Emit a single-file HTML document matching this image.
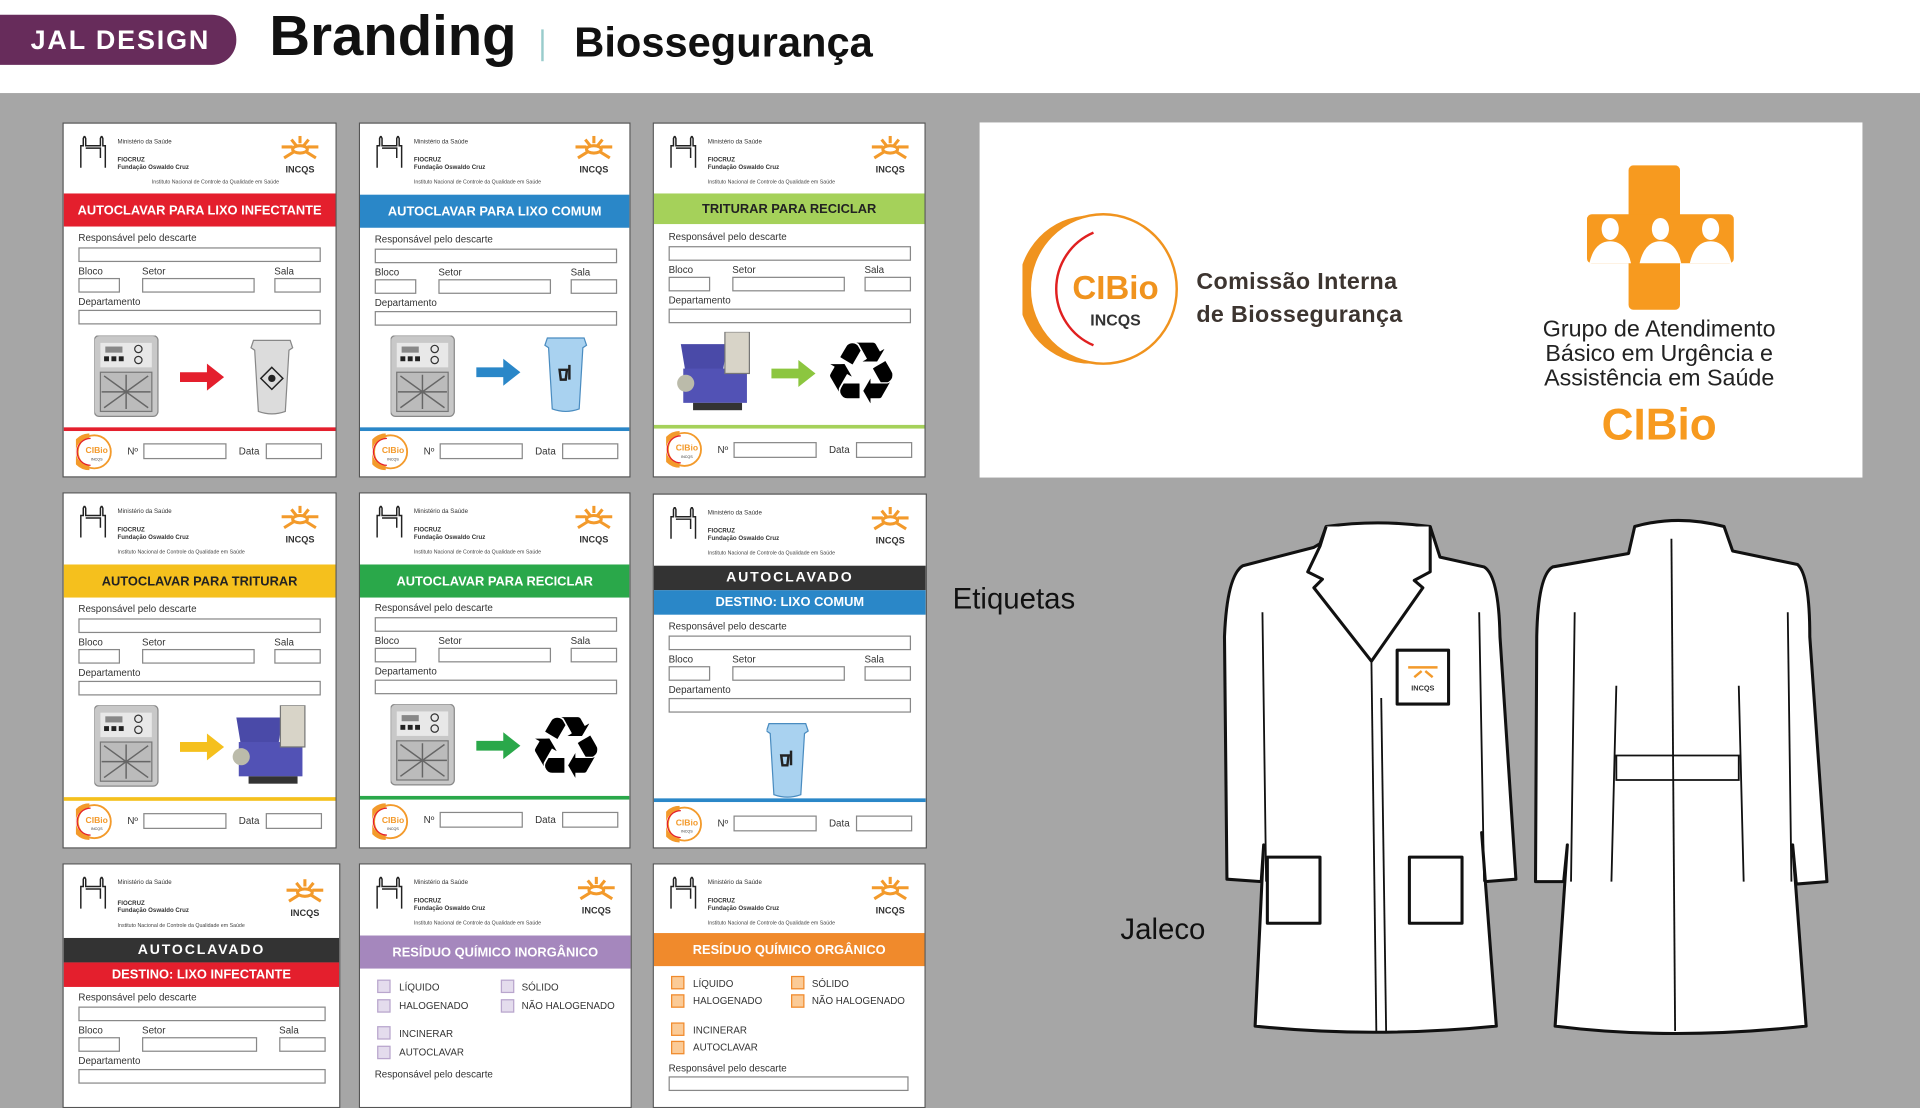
<!DOCTYPE html>
<html><head><meta charset="utf-8">
<style>
*{margin:0;padding:0;box-sizing:border-box}
html,body{width:1920px;height:1080px;overflow:hidden;background:#a6a6a6;font-family:"Liberation Sans",sans-serif}
#w{position:absolute;left:0;top:0;width:1568px;height:882px;transform:scale(1.22449);transform-origin:0 0;background:#a6a6a6}
.a{position:absolute}
.card{position:absolute;background:#fff;border:1px solid #555;width:224px;height:290px;overflow:hidden}
.card>*{position:absolute}
.t1{font-size:5px;color:#333;line-height:6px}
.t2{font-size:4.3px;color:#444;white-space:nowrap}
.band{left:0;right:0;color:#fff;font-weight:bold;font-size:10.5px;text-align:center;display:flex;align-items:center;justify-content:center;white-space:nowrap}
.l{font-size:8px;color:#333}
.b{border:1px solid #888;height:12px;background:#fff}
.ln{left:0;right:0;height:3px}
.ck{width:11px;height:11px}
.ct{font-size:8px;color:#333}
</style></head><body><div id="w">
<!-- header bar -->
<div class="a" style="left:0;top:0;width:1568px;height:76px;background:#fff"></div>
<div class="a" style="left:0;top:12px;width:193px;height:41px;background:#672c5b;border-radius:0 20px 20px 0;color:#fff;font-weight:bold;font-size:22px;letter-spacing:1.5px;line-height:41px;padding-left:25px">JAL DESIGN</div>
<div class="a" style="left:220px;top:2px;font-size:46px;font-weight:bold;color:#111">Branding</div>
<div class="a" style="left:442px;top:24px;width:2px;height:26px;background:#9cc"></div>
<div class="a" style="left:469px;top:16px;font-size:34px;font-weight:bold;color:#111">Biossegurança</div>

<svg width="0" height="0" style="position:absolute"><defs>
<g id="bld"><path d="M2 26V8h2V2l1-2 1 2v6h12V2l1-2 1 2v6h2v18M6 10h12v8" fill="none" stroke="#222" stroke-width="1.2"/></g>
<g id="inc"><g stroke="#f39a2b" stroke-width="2.5" fill="none"><ellipse cx="19" cy="11" rx="6" ry="3"/><path d="M4 9h9M25 9h9M6 18l8-5M32 18l-8-5M12 3l4 5M26 3l-4 5M19 0v6"/></g><text x="19" y="30" font-size="7.5" font-weight="bold" text-anchor="middle" fill="#333" font-family="Liberation Sans">INCQS</text></g>
<g id="cib"><circle cx="15" cy="15" r="13.5" fill="#fff" stroke="#f39a2b" stroke-width="1.5"/><path d="M11 2A13 13 0 0 0 11 28" stroke="#f39a2b" stroke-width="4" fill="none"/><path d="M12 4A11 11 0 0 0 12 26" stroke="#e41f2d" stroke-width="1" fill="none"/><text x="17" y="16" font-size="7" font-weight="bold" text-anchor="middle" fill="#f39a2b" font-family="Liberation Sans">CIBio</text><text x="17" y="22" font-size="3" text-anchor="middle" fill="#333" font-family="Liberation Sans">INCQS</text></g>
<g id="acl"><rect x="0" y="0" width="52" height="66" rx="4" fill="#c8c8c8" stroke="#888"/><rect x="5" y="6" width="42" height="20" fill="#e8e8e8"/><rect x="9" y="9" width="14" height="5" fill="#888"/><rect x="8" y="17" width="4" height="4" fill="#222"/><rect x="14" y="17" width="4" height="4" fill="#222"/><rect x="20" y="17" width="4" height="4" fill="#222"/><circle cx="36" cy="11" r="3" fill="none" stroke="#333"/><circle cx="36" cy="20" r="3" fill="none" stroke="#333"/><rect x="5" y="30" width="42" height="32" fill="#bbb" stroke="#777"/><path d="M8 33L44 59M44 33L8 59M26 32v28M6 46h40" stroke="#666" stroke-width="1.2"/></g>
<g id="rec"><text x="0" y="58" font-size="70" fill="#000" font-family="DejaVu Sans">♻</text></g>
<g id="shr"><path d="M4 10l38 0-4 24H8z" fill="#4a4aa8"/><rect x="6" y="30" width="52" height="28" fill="#5252b5"/><rect x="40" y="0" width="20" height="34" fill="#d8d4c8" stroke="#777"/><circle cx="8" cy="42" r="7" fill="#bba" /><rect x="14" y="58" width="40" height="6" fill="#333"/></g>
<g id="bin"><path d="M2 4h30l2 6-3 2-3 50q-11 4-22 0l-3-50-3-2z" fill="#dcdcdc" stroke="#888"/><path d="M17 26l9 9-9 9-9-9z" fill="none" stroke="#222" stroke-width="1.2"/><circle cx="17" cy="35" r="3" fill="#222"/></g>
<g id="bbin"><path d="M2 4h30l2 6-3 2-3 50q-11 4-22 0l-3-50-3-2z" fill="#a9d2f0" stroke="#4a8cc0"/><path d="M12 30h6l-1 8h-4zM20 26v12" stroke="#222" stroke-width="2" fill="none"/></g>
</defs></svg>

<!-- generic header builder repeated -->
<!-- ROW 1 -->
<div class="card" style="left:51px;top:100px">
<svg style="left:12px;top:10px" width="28" height="28"><use href="#bld"/></svg>
<div class="t1" style="left:44px;top:12px">Ministério da Saúde</div>
<div class="t1" style="left:44px;top:27px;font-weight:bold">FIOCRUZ<br>Fundação Oswaldo Cruz</div>
<div class="t2" style="left:72px;top:45px">Instituto Nacional de Controle da Qualidade em Saúde</div>
<svg style="left:174px;top:10px" width="40" height="34"><use href="#inc"/></svg>
<div class="band" style="top:57px;height:27px;background:#e41f2d">AUTOCLAVAR PARA LIXO INFECTANTE</div>
<div class="l" style="left:12px;top:89px">Responsável pelo descarte</div>
<div class="b" style="left:12px;top:101px;width:198px"></div>
<div class="l" style="left:12px;top:116px">Bloco</div><div class="l" style="left:64px;top:116px">Setor</div><div class="l" style="left:172px;top:116px">Sala</div>
<div class="b" style="left:12px;top:126px;width:34px"></div><div class="b" style="left:64px;top:126px;width:92px"></div><div class="b" style="left:172px;top:126px;width:38px"></div>
<div class="l" style="left:12px;top:141px">Departamento</div>
<div class="b" style="left:12px;top:152px;width:198px"></div>
<svg style="left:25px;top:173px" width="200" height="70"><use href="#acl"/><path d="M70 30h22v-7l14 11-14 11v-7H70z" fill="#e41f2d"/><use href="#bin" x="128" y="0"/></svg>
<div class="ln" style="top:248px;background:#e41f2d"></div>
<svg style="left:10px;top:253px" width="30" height="30"><use href="#cib"/></svg>
<div class="l" style="left:52px;top:263px">Nº</div><div class="b" style="left:65px;top:261px;width:68px;height:13px"></div>
<div class="l" style="left:143px;top:263px">Data</div><div class="b" style="left:165px;top:261px;width:46px;height:13px"></div>
</div>

<div class="card" style="left:293px;top:100px;width:222px">
<svg style="left:12px;top:10px" width="28" height="28"><use href="#bld"/></svg>
<div class="t1" style="left:44px;top:12px">Ministério da Saúde</div>
<div class="t1" style="left:44px;top:27px;font-weight:bold">FIOCRUZ<br>Fundação Oswaldo Cruz</div>
<div class="t2" style="left:44px;top:45px">Instituto Nacional de Controle da Qualidade em Saúde</div>
<svg style="left:172px;top:10px" width="40" height="34"><use href="#inc"/></svg>
<div class="band" style="top:58px;height:27px;background:#2a87c8">AUTOCLAVAR PARA LIXO COMUM</div>
<div class="l" style="left:12px;top:90px">Responsável pelo descarte</div>
<div class="b" style="left:12px;top:102px;width:198px"></div>
<div class="l" style="left:12px;top:117px">Bloco</div><div class="l" style="left:64px;top:117px">Setor</div><div class="l" style="left:172px;top:117px">Sala</div>
<div class="b" style="left:12px;top:127px;width:34px"></div><div class="b" style="left:64px;top:127px;width:92px"></div><div class="b" style="left:172px;top:127px;width:38px"></div>
<div class="l" style="left:12px;top:142px">Departamento</div>
<div class="b" style="left:12px;top:153px;width:198px"></div>
<svg style="left:25px;top:173px" width="200" height="70"><use href="#acl"/><path d="M70 26h22v-7l14 11-14 11v-7H70z" fill="#2a87c8"/><use href="#bbin" x="126" y="-2"/></svg>
<div class="ln" style="top:248px;background:#2a87c8"></div>
<svg style="left:10px;top:253px" width="30" height="30"><use href="#cib"/></svg>
<div class="l" style="left:52px;top:263px">Nº</div><div class="b" style="left:65px;top:261px;width:68px;height:13px"></div>
<div class="l" style="left:143px;top:263px">Data</div><div class="b" style="left:165px;top:261px;width:46px;height:13px"></div>
</div>

<div class="card" style="left:533px;top:100px;width:223px">
<svg style="left:12px;top:10px" width="28" height="28"><use href="#bld"/></svg>
<div class="t1" style="left:44px;top:12px">Ministério da Saúde</div>
<div class="t1" style="left:44px;top:27px;font-weight:bold">FIOCRUZ<br>Fundação Oswaldo Cruz</div>
<div class="t2" style="left:44px;top:45px">Instituto Nacional de Controle da Qualidade em Saúde</div>
<svg style="left:174px;top:10px" width="40" height="34"><use href="#inc"/></svg>
<div class="band" style="top:57px;height:25px;background:#a5d15a;color:#222">TRITURAR PARA RECICLAR</div>
<div class="l" style="left:12px;top:88px">Responsável pelo descarte</div>
<div class="b" style="left:12px;top:100px;width:198px"></div>
<div class="l" style="left:12px;top:115px">Bloco</div><div class="l" style="left:64px;top:115px">Setor</div><div class="l" style="left:172px;top:115px">Sala</div>
<div class="b" style="left:12px;top:125px;width:34px"></div><div class="b" style="left:64px;top:125px;width:92px"></div><div class="b" style="left:172px;top:125px;width:38px"></div>
<div class="l" style="left:12px;top:140px">Departamento</div>
<div class="b" style="left:12px;top:151px;width:198px"></div>
<svg style="left:18px;top:170px" width="200" height="72"><use href="#shr"/><path d="M78 30h22v-7l14 11-14 11v-7H78z" fill="#8cc63f"/><use href="#rec" x="120" y="0"/></svg>
<div class="ln" style="top:246px;background:#a5d15a"></div>
<svg style="left:10px;top:251px" width="30" height="30"><use href="#cib"/></svg>
<div class="l" style="left:52px;top:262px">Nº</div><div class="b" style="left:65px;top:260px;width:68px;height:13px"></div>
<div class="l" style="left:143px;top:262px">Data</div><div class="b" style="left:165px;top:260px;width:46px;height:13px"></div>
</div>

<!-- ROW 2 -->
<div class="card" style="left:51px;top:402px;height:291px">
<svg style="left:12px;top:10px" width="28" height="28"><use href="#bld"/></svg>
<div class="t1" style="left:44px;top:12px">Ministério da Saúde</div>
<div class="t1" style="left:44px;top:27px;font-weight:bold">FIOCRUZ<br>Fundação Oswaldo Cruz</div>
<div class="t2" style="left:44px;top:45px">Instituto Nacional de Controle da Qualidade em Saúde</div>
<svg style="left:174px;top:10px" width="40" height="34"><use href="#inc"/></svg>
<div class="band" style="top:58px;height:27px;background:#f5c01d;color:#222">AUTOCLAVAR PARA TRITURAR</div>
<div class="l" style="left:12px;top:90px">Responsável pelo descarte</div>
<div class="b" style="left:12px;top:102px;width:198px"></div>
<div class="l" style="left:12px;top:117px">Bloco</div><div class="l" style="left:64px;top:117px">Setor</div><div class="l" style="left:172px;top:117px">Sala</div>
<div class="b" style="left:12px;top:127px;width:34px"></div><div class="b" style="left:64px;top:127px;width:92px"></div><div class="b" style="left:172px;top:127px;width:38px"></div>
<div class="l" style="left:12px;top:142px">Departamento</div>
<div class="b" style="left:12px;top:153px;width:198px"></div>
<svg style="left:25px;top:173px" width="200" height="72"><use href="#acl"/><path d="M70 30h22v-7l14 11-14 11v-7H70z" fill="#f5c01d"/><use href="#shr" x="112" y="0"/></svg>
<div class="ln" style="top:248px;background:#f5c01d"></div>
<svg style="left:10px;top:253px" width="30" height="30"><use href="#cib"/></svg>
<div class="l" style="left:52px;top:263px">Nº</div><div class="b" style="left:65px;top:261px;width:68px;height:13px"></div>
<div class="l" style="left:143px;top:263px">Data</div><div class="b" style="left:165px;top:261px;width:46px;height:13px"></div>
</div>

<div class="card" style="left:293px;top:402px;width:222px;height:291px">
<svg style="left:12px;top:10px" width="28" height="28"><use href="#bld"/></svg>
<div class="t1" style="left:44px;top:12px">Ministério da Saúde</div>
<div class="t1" style="left:44px;top:27px;font-weight:bold">FIOCRUZ<br>Fundação Oswaldo Cruz</div>
<div class="t2" style="left:44px;top:45px">Instituto Nacional de Controle da Qualidade em Saúde</div>
<svg style="left:172px;top:10px" width="40" height="34"><use href="#inc"/></svg>
<div class="band" style="top:58px;height:27px;background:#2aa84a">AUTOCLAVAR PARA RECICLAR</div>
<div class="l" style="left:12px;top:89px">Responsável pelo descarte</div>
<div class="b" style="left:12px;top:101px;width:198px"></div>
<div class="l" style="left:12px;top:116px">Bloco</div><div class="l" style="left:64px;top:116px">Setor</div><div class="l" style="left:172px;top:116px">Sala</div>
<div class="b" style="left:12px;top:126px;width:34px"></div><div class="b" style="left:64px;top:126px;width:92px"></div><div class="b" style="left:172px;top:126px;width:38px"></div>
<div class="l" style="left:12px;top:141px">Departamento</div>
<div class="b" style="left:12px;top:152px;width:198px"></div>
<svg style="left:25px;top:172px" width="200" height="72"><use href="#acl"/><path d="M70 30h22v-7l14 11-14 11v-7H70z" fill="#2aa84a"/><use href="#rec" x="112" y="2"/></svg>
<div class="ln" style="top:247px;background:#2aa84a"></div>
<svg style="left:10px;top:253px" width="30" height="30"><use href="#cib"/></svg>
<div class="l" style="left:52px;top:262px">Nº</div><div class="b" style="left:65px;top:260px;width:68px;height:13px"></div>
<div class="l" style="left:143px;top:262px">Data</div><div class="b" style="left:165px;top:260px;width:46px;height:13px"></div>
</div>

<div class="card" style="left:533px;top:403px;height:290px">
<svg style="left:12px;top:10px" width="28" height="28"><use href="#bld"/></svg>
<div class="t1" style="left:44px;top:12px">Ministério da Saúde</div>
<div class="t1" style="left:44px;top:27px;font-weight:bold">FIOCRUZ<br>Fundação Oswaldo Cruz</div>
<div class="t2" style="left:44px;top:45px">Instituto Nacional de Controle da Qualidade em Saúde</div>
<svg style="left:174px;top:10px" width="40" height="34"><use href="#inc"/></svg>
<div class="band" style="top:58px;height:20px;background:#333;letter-spacing:1.5px;font-size:11.5px">AUTOCLAVADO</div>
<div class="band" style="top:78px;height:20px;background:#2a87c8">DESTINO: LIXO COMUM</div>
<div class="l" style="left:12px;top:103px">Responsável pelo descarte</div>
<div class="b" style="left:12px;top:115px;width:198px"></div>
<div class="l" style="left:12px;top:130px">Bloco</div><div class="l" style="left:64px;top:130px">Setor</div><div class="l" style="left:172px;top:130px">Sala</div>
<div class="b" style="left:12px;top:140px;width:34px"></div><div class="b" style="left:64px;top:140px;width:92px"></div><div class="b" style="left:172px;top:140px;width:38px"></div>
<div class="l" style="left:12px;top:155px">Departamento</div>
<div class="b" style="left:12px;top:166px;width:198px"></div>
<svg style="left:92px;top:183px" width="40" height="66"><use href="#bbin"/></svg>
<div class="ln" style="top:248px;background:#2a87c8"></div>
<svg style="left:10px;top:254px" width="30" height="30"><use href="#cib"/></svg>
<div class="l" style="left:52px;top:264px">Nº</div><div class="b" style="left:65px;top:262px;width:68px;height:13px"></div>
<div class="l" style="left:143px;top:264px">Data</div><div class="b" style="left:165px;top:262px;width:46px;height:13px"></div>
</div>

<!-- ROW 3 -->
<div class="card" style="left:51px;top:705px;width:227px;height:200px">
<svg style="left:12px;top:10px" width="28" height="28"><use href="#bld"/></svg>
<div class="t1" style="left:44px;top:12px">Ministério da Saúde</div>
<div class="t1" style="left:44px;top:29px;font-weight:bold">FIOCRUZ<br>Fundação Oswaldo Cruz</div>
<div class="t2" style="left:44px;top:47px">Instituto Nacional de Controle da Qualidade em Saúde</div>
<svg style="left:178px;top:12px" width="40" height="34"><use href="#inc"/></svg>
<div class="band" style="top:60px;height:20px;background:#333;letter-spacing:1.5px;font-size:11.5px">AUTOCLAVADO</div>
<div class="band" style="top:80px;height:20px;background:#e41f2d">DESTINO: LIXO INFECTANTE</div>
<div class="l" style="left:12px;top:104px">Responsável pelo descarte</div>
<div class="b" style="left:12px;top:116px;width:202px"></div>
<div class="l" style="left:12px;top:131px">Bloco</div><div class="l" style="left:64px;top:131px">Setor</div><div class="l" style="left:176px;top:131px">Sala</div>
<div class="b" style="left:12px;top:141px;width:34px"></div><div class="b" style="left:64px;top:141px;width:94px"></div><div class="b" style="left:176px;top:141px;width:38px"></div>
<div class="l" style="left:12px;top:156px">Departamento</div>
<div class="b" style="left:12px;top:167px;width:202px"></div>
</div>

<div class="card" style="left:293px;top:705px;width:223px;height:200px">
<svg style="left:12px;top:10px" width="28" height="28"><use href="#bld"/></svg>
<div class="t1" style="left:44px;top:12px">Ministério da Saúde</div>
<div class="t1" style="left:44px;top:27px;font-weight:bold">FIOCRUZ<br>Fundação Oswaldo Cruz</div>
<div class="t2" style="left:44px;top:45px">Instituto Nacional de Controle da Qualidade em Saúde</div>
<svg style="left:174px;top:10px" width="40" height="34"><use href="#inc"/></svg>
<div class="band" style="top:58px;height:27px;background:#a587bd">RESÍDUO QUÍMICO INORGÂNICO</div>
<div class="ck" style="left:14px;top:94px;background:#e4dced;border:1px solid #b9a6cd"></div><div class="ct" style="left:32px;top:96px">LÍQUIDO</div>
<div class="ck" style="left:115px;top:94px;background:#e4dced;border:1px solid #b9a6cd"></div><div class="ct" style="left:132px;top:96px">SÓLIDO</div>
<div class="ck" style="left:14px;top:110px;background:#e4dced;border:1px solid #b9a6cd"></div><div class="ct" style="left:32px;top:111px">HALOGENADO</div>
<div class="ck" style="left:115px;top:110px;background:#e4dced;border:1px solid #b9a6cd"></div><div class="ct" style="left:132px;top:111px">NÃO HALOGENADO</div>
<div class="ck" style="left:14px;top:132px;background:#e4dced;border:1px solid #b9a6cd"></div><div class="ct" style="left:32px;top:134px">INCINERAR</div>
<div class="ck" style="left:14px;top:148px;background:#e4dced;border:1px solid #b9a6cd"></div><div class="ct" style="left:32px;top:149px">AUTOCLAVAR</div>
<div class="l" style="left:12px;top:167px">Responsável pelo descarte</div>
</div>

<div class="card" style="left:533px;top:705px;width:223px;height:200px">
<svg style="left:12px;top:10px" width="28" height="28"><use href="#bld"/></svg>
<div class="t1" style="left:44px;top:12px">Ministério da Saúde</div>
<div class="t1" style="left:44px;top:27px;font-weight:bold">FIOCRUZ<br>Fundação Oswaldo Cruz</div>
<div class="t2" style="left:44px;top:45px">Instituto Nacional de Controle da Qualidade em Saúde</div>
<svg style="left:174px;top:10px" width="40" height="34"><use href="#inc"/></svg>
<div class="band" style="top:56px;height:27px;background:#f08a2c">RESÍDUO QUÍMICO ORGÂNICO</div>
<div class="ck" style="left:14px;top:91px;background:#fbcb97;border:1px solid #f08a2c"></div><div class="ct" style="left:32px;top:93px">LÍQUIDO</div>
<div class="ck" style="left:112px;top:91px;background:#fbcb97;border:1px solid #f08a2c"></div><div class="ct" style="left:129px;top:93px">SÓLIDO</div>
<div class="ck" style="left:14px;top:106px;background:#fbcb97;border:1px solid #f08a2c"></div><div class="ct" style="left:32px;top:107px">HALOGENADO</div>
<div class="ck" style="left:112px;top:106px;background:#fbcb97;border:1px solid #f08a2c"></div><div class="ct" style="left:129px;top:107px">NÃO HALOGENADO</div>
<div class="ck" style="left:14px;top:129px;background:#fbcb97;border:1px solid #f08a2c"></div><div class="ct" style="left:32px;top:131px">INCINERAR</div>
<div class="ck" style="left:14px;top:144px;background:#fbcb97;border:1px solid #f08a2c"></div><div class="ct" style="left:32px;top:145px">AUTOCLAVAR</div>
<div class="l" style="left:12px;top:162px">Responsável pelo descarte</div>
<div class="b" style="left:12px;top:173px;width:196px"></div>
</div>

<!-- logo panel -->
<div class="a" style="left:800px;top:100px;width:721px;height:290px;background:#fff"></div>
<svg class="a" style="left:835px;top:172px" width="135" height="128">
<ellipse cx="66" cy="64" rx="60" ry="61" fill="none" stroke="#f0931e" stroke-width="2"/>
<path d="M55 4A62 62 0 0 0 55 125A58 60 0 0 1 55 4z" fill="#f0931e"/>
<path d="M58 18A50 50 0 0 0 58 110" fill="none" stroke="#e02020" stroke-width="2"/>
<text x="76" y="72" font-size="27" font-weight="bold" fill="#f0931e" text-anchor="middle" font-family="Liberation Sans">CIBio</text>
<text x="76" y="94" font-size="13" font-weight="bold" fill="#333" text-anchor="middle" font-family="Liberation Sans">INCQS</text>
</svg>
<div class="a" style="left:977px;top:217px;font-size:19px;font-weight:bold;color:#3d3530;line-height:27px;letter-spacing:0.3px">Comissão Interna<br>de Biossegurança</div>
<svg class="a" style="left:1296px;top:135px" width="120" height="120">
<rect x="34" y="0" width="42" height="118" rx="4" fill="#f79a1f"/>
<rect x="0" y="40" width="120" height="40" rx="4" fill="#f79a1f"/>
<g fill="#fff"><ellipse cx="19" cy="52" rx="7" ry="9"/><ellipse cx="60" cy="52" rx="7" ry="9"/><ellipse cx="101" cy="52" rx="7" ry="9"/>
<path d="M2 80Q6 62 19 62Q32 62 36 80z"/><path d="M43 80Q47 62 60 62Q73 62 77 80z"/><path d="M84 80Q88 62 101 62Q114 62 118 80z"/></g>
</svg>
<div class="a" style="left:1240px;top:260px;width:230px;text-align:center;font-size:19px;line-height:20px;color:#222">Grupo de Atendimento<br>Básico em Urgência e<br>Assistência em Saúde</div>
<div class="a" style="left:1240px;top:326px;width:230px;text-align:center;font-size:36px;font-weight:bold;color:#f79a1f">CIBio</div>

<div class="a" style="left:778px;top:476px;font-size:24px;color:#111">Etiquetas</div>
<div class="a" style="left:915px;top:746px;font-size:24px;color:#111">Jaleco</div>

<!-- coats -->
<svg class="a" style="left:990px;top:415px" width="520" height="440" viewBox="990 415 520 440">
<g fill="#fff" stroke="#111" stroke-width="2.5" stroke-linejoin="round">
<path d="M1078 444L1083 430Q1125 424 1168 430L1176 455L1212 463Q1224 470 1225 520L1238 718L1213 720L1210 680L1222 838Q1120 848 1025 838L1032 690L1030 720L1002 718L1000 520Q1002 470 1015 462L1073 447z"/>
<path d="M1083 430L1078 446L1068 467L1080 473L1073 480L1120 540L1162 480L1155 474L1168 467L1168 430"/>
<path d="M1035 700h43v54h-43z"/><path d="M1151 700h43v54h-43z"/>
<path d="M1141 531h42v44h-42z"/>
<path d="M1335 430Q1370 420 1408 430L1415 450L1468 461Q1478 470 1478 520L1492 720L1467 722L1464 690L1475 838Q1365 850 1270 838L1280 690L1277 720L1254 720L1255 520Q1256 470 1268 463L1330 452z"/>
</g>
<g fill="none" stroke="#111" stroke-width="1.5">
<path d="M1120 540L1124 842"/><path d="M1128 570L1132 842"/>
<path d="M1031 500L1034 720M1208 500L1212 720"/>
<path d="M1365 440L1368 842"/>
<path d="M1320 617h100v20h-100z"/>
<path d="M1320 560L1316 720M1420 560L1424 720"/>
<path d="M1286 500L1283 720M1460 500L1463 720"/>
</g>
<g stroke="#f39a2b" stroke-width="2"><path d="M1150 545h24M1155 553l6-5M1170 553l-6-5"/></g>
<text x="1162" y="564" font-size="6" font-weight="bold" text-anchor="middle" fill="#333" font-family="Liberation Sans">INCQS</text>
</svg>
</div></body></html>
